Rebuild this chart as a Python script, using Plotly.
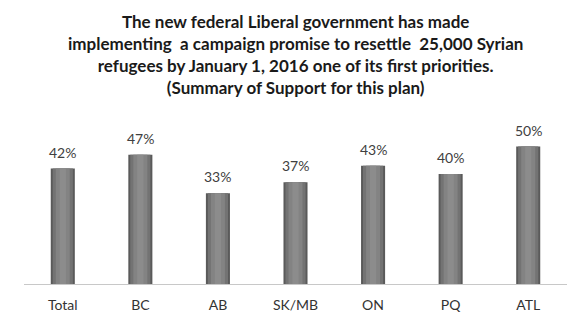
import plotly.graph_objects as go

categories = ["Total", "BC", "AB", "SK/MB", "ON", "PQ", "ATL"]
support = [42, 47, 33, 37, 43, 40, 50]
value_labels = [f"{v}%" for v in support]
title_lines = [
    "The new federal Liberal government has made",
    "implementing  a campaign promise to resettle  25,000 Syrian",
    "refugees by January 1, 2016 one of its first priorities.",
    "(Summary of Support for this plan)",
]

FONT = "Lato, 'Open Sans', sans-serif"

fig = go.Figure()
# layered bars to imitate the cylinder shading
layers = [
    (0.31, "#5a5a5a"),
    (0.26, "#737373"),
    (0.18, "#838383"),
    (0.08, "#8c8c8c"),
]
for w, c in layers:
    fig.add_trace(go.Bar(
        x=categories, y=support, width=w,
        marker=dict(color=c, line=dict(width=0)),
        hoverinfo="skip", showlegend=False,
    ))

for cat, v, lab in zip(categories, support, value_labels):
    fig.add_annotation(
        x=cat, y=v, text=lab, showarrow=False, yanchor="bottom", yshift=6,
        font=dict(family=FONT, size=14, color="#404040"),
    )

fig.add_annotation(
    x=0.5, xref="paper", xanchor="center",
    y=(284 - 9) / 165, yref="paper", yanchor="top",
    text="<b>" + "<br>".join(title_lines) + "</b>", showarrow=False,
    font=dict(family=FONT, size=17, color="#1a1a1a"), align="center",
)

fig.update_layout(
    width=579, height=324,
    margin=dict(l=24, r=12, t=119, b=40),
    paper_bgcolor="white", plot_bgcolor="white",
    barmode="overlay",
    xaxis=dict(showline=True, linecolor="#c8c8c8", linewidth=1,
               tickfont=dict(family=FONT, size=14, color="#333333"),
               showgrid=False, ticks="", ticklabelstandoff=8),
    yaxis=dict(range=[0, 60], visible=False, showgrid=False),
)

fig.write_html("out.html")
